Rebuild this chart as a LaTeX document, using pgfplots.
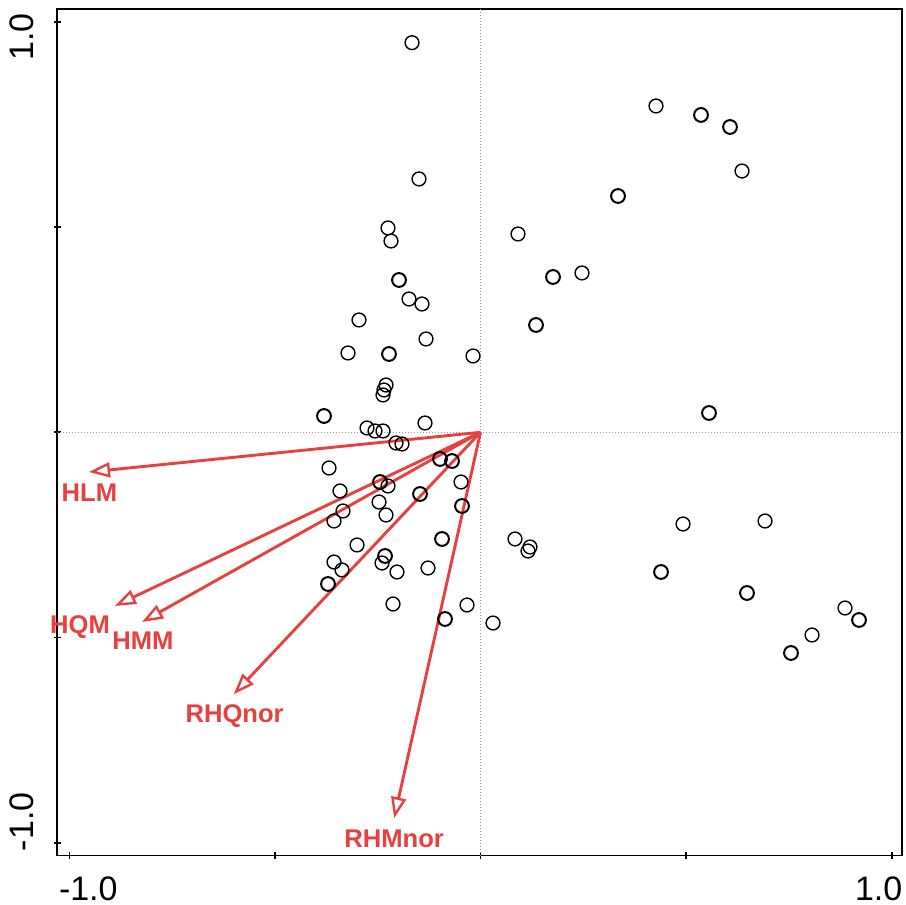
\documentclass[border=0pt]{standalone}
\usepackage{fontspec}
\setmainfont{Liberation Sans}
\usepackage{pgfplots}
\pgfplotsset{compat=1.18}
\usetikzlibrary{arrows.meta,calc}
\definecolor{vred}{RGB}{232,64,62}
\pgfplotstableread{
x y
-0.1666 0.9491
-0.1496 0.6171
-0.2250 0.4977
-0.2177 0.4660
-0.1739 0.3247
-0.1423 0.3125
-0.2955 0.2736
-0.1325 0.2273
-0.3222 0.1932
-0.0182 0.1859
-0.2298 0.1152
-0.2347 0.1030
-0.2371 0.0909
-0.2760 0.0105
-0.2566 0.0032
-0.2371 0.0032
-0.1350 0.0227
-0.2055 -0.0261
-0.1909 -0.0285
-0.3684 -0.0870
-0.0474 -0.1211
-0.3417 -0.1430
-0.2250 -0.1308
-0.2468 -0.1698
-0.3344 -0.1917
-0.2298 -0.2015
-0.3563 -0.2161
-0.3003 -0.2745
-0.2395 -0.3184
-0.3563 -0.3160
-0.3368 -0.3354
-0.2031 -0.3403
-0.1277 -0.3306
-0.2128 -0.4183
-0.0328 -0.4207
0.0304 -0.4646
0.4268 0.7949
0.6359 0.6365
0.0912 0.4831
0.2468 0.3881
0.0839 -0.2599
0.1204 -0.2794
0.1155 -0.2892
0.4925 -0.2234
0.6919 -0.2161
0.8864 -0.4280
0.8062 -0.4938
}\normalpts
\pgfplotstableread{
x y
-0.1982 0.3710
-0.2225 0.1907
-0.3806 0.0397
-0.0985 -0.0650
-0.0693 -0.0699
-0.2444 -0.1211
-0.1471 -0.1503
-0.0450 -0.1795
-0.0936 -0.2599
-0.2322 -0.3013
-0.3709 -0.3695
-0.0863 -0.4548
0.5362 0.7730
0.6068 0.7437
0.3344 0.5756
0.1763 0.3783
0.1350 0.2614
0.5557 0.0470
0.4390 -0.3403
0.6481 -0.3915
0.9205 -0.4572
0.7551 -0.5376
}\boldpts
\begin{document}
\begin{tikzpicture}
\begin{axis}[
  scale only axis, width=422.2pt, height=423.2pt,
  xmin=-1.0292, xmax=1.0243, ymin=-1.0314, ymax=1.0304,
  axis line style={line width=0.8pt},
  xtick={-1,-0.5,0,0.5,1}, ytick={-1,-0.5,0,0.5,1},
  xticklabels={\hspace*{19pt}-1.0,,,,1.0\hspace*{13pt}},
  yticklabels={\hspace*{21pt}-1.0,,,,1.0\hspace*{15pt}},
  xtick pos=bottom, ytick pos=left,
  tick align=center, major tick length=3.5pt,
  tick style={black, line width=0.8pt},
  ticklabel style={font=\fontsize{17}{20}\selectfont, inner sep=0pt, outer sep=0pt},
  xticklabel style={anchor=base},
  yticklabel style={rotate=90, anchor=base},
  xticklabel shift=20.5pt, yticklabel shift=10pt,
  clip=false,
]
\addplot[gray!80, densely dotted, line width=0.5pt] coordinates {(0,-1.0314) (0,1.0304)};
\addplot[gray!80, densely dotted, line width=0.5pt] coordinates {(-1.0292,0) (1.0243,0)};
\addplot[only marks, mark=o, mark size=3.45pt, black, mark options={line width=0.7pt}] table {\normalpts};
\addplot[only marks, mark=o, mark size=3.45pt, black, mark options={line width=1.0pt}] table {\boldpts};
\addplot[vred, line width=1.45pt, -{Triangle[open, length=10.5pt, width=7.5pt, line width=1.2pt]}] coordinates {(0,0) (-0.952,-0.0967)};
\addplot[vred, line width=1.45pt, -{Triangle[open, length=10.5pt, width=7.5pt, line width=1.2pt]}] coordinates {(0,0) (-0.889,-0.423)};
\addplot[vred, line width=1.45pt, -{Triangle[open, length=10.5pt, width=7.5pt, line width=1.2pt]}] coordinates {(0,0) (-0.823,-0.462)};
\addplot[vred, line width=1.45pt, -{Triangle[open, length=10.5pt, width=7.5pt, line width=1.2pt]}] coordinates {(0,0) (-0.600,-0.638)};
\addplot[vred, line width=1.45pt, -{Triangle[open, length=10.5pt, width=7.5pt, line width=1.2pt]}] coordinates {(0,0) (-0.210,-0.940)};
\node[vred, font=\bfseries\fontsize{12.8}{15}\selectfont, anchor=base] at (axis cs:-0.951,-0.1698) {HLM};
\node[vred, font=\bfseries\fontsize{12.8}{15}\selectfont, anchor=base] at (axis cs:-0.974,-0.490) {HQM};
\node[vred, font=\bfseries\fontsize{12.8}{15}\selectfont, anchor=base] at (axis cs:-0.821,-0.530) {HMM};
\node[vred, font=\bfseries\fontsize{12.8}{15}\selectfont, anchor=base] at (axis cs:-0.598,-0.707) {RHQnor};
\node[vred, font=\bfseries\fontsize{12.8}{15}\selectfont, anchor=base] at (axis cs:-0.210,-1.011) {RHMnor};
\coordinate (sw) at (rel axis cs:0,0);
\coordinate (ne) at (rel axis cs:1,1);
\end{axis}
\pgfresetboundingbox
\path ($(sw)+(-28.65pt,-24.65pt)$) rectangle ($(ne)+(2.15pt,4.65pt)$);
\end{tikzpicture}
\end{document}
